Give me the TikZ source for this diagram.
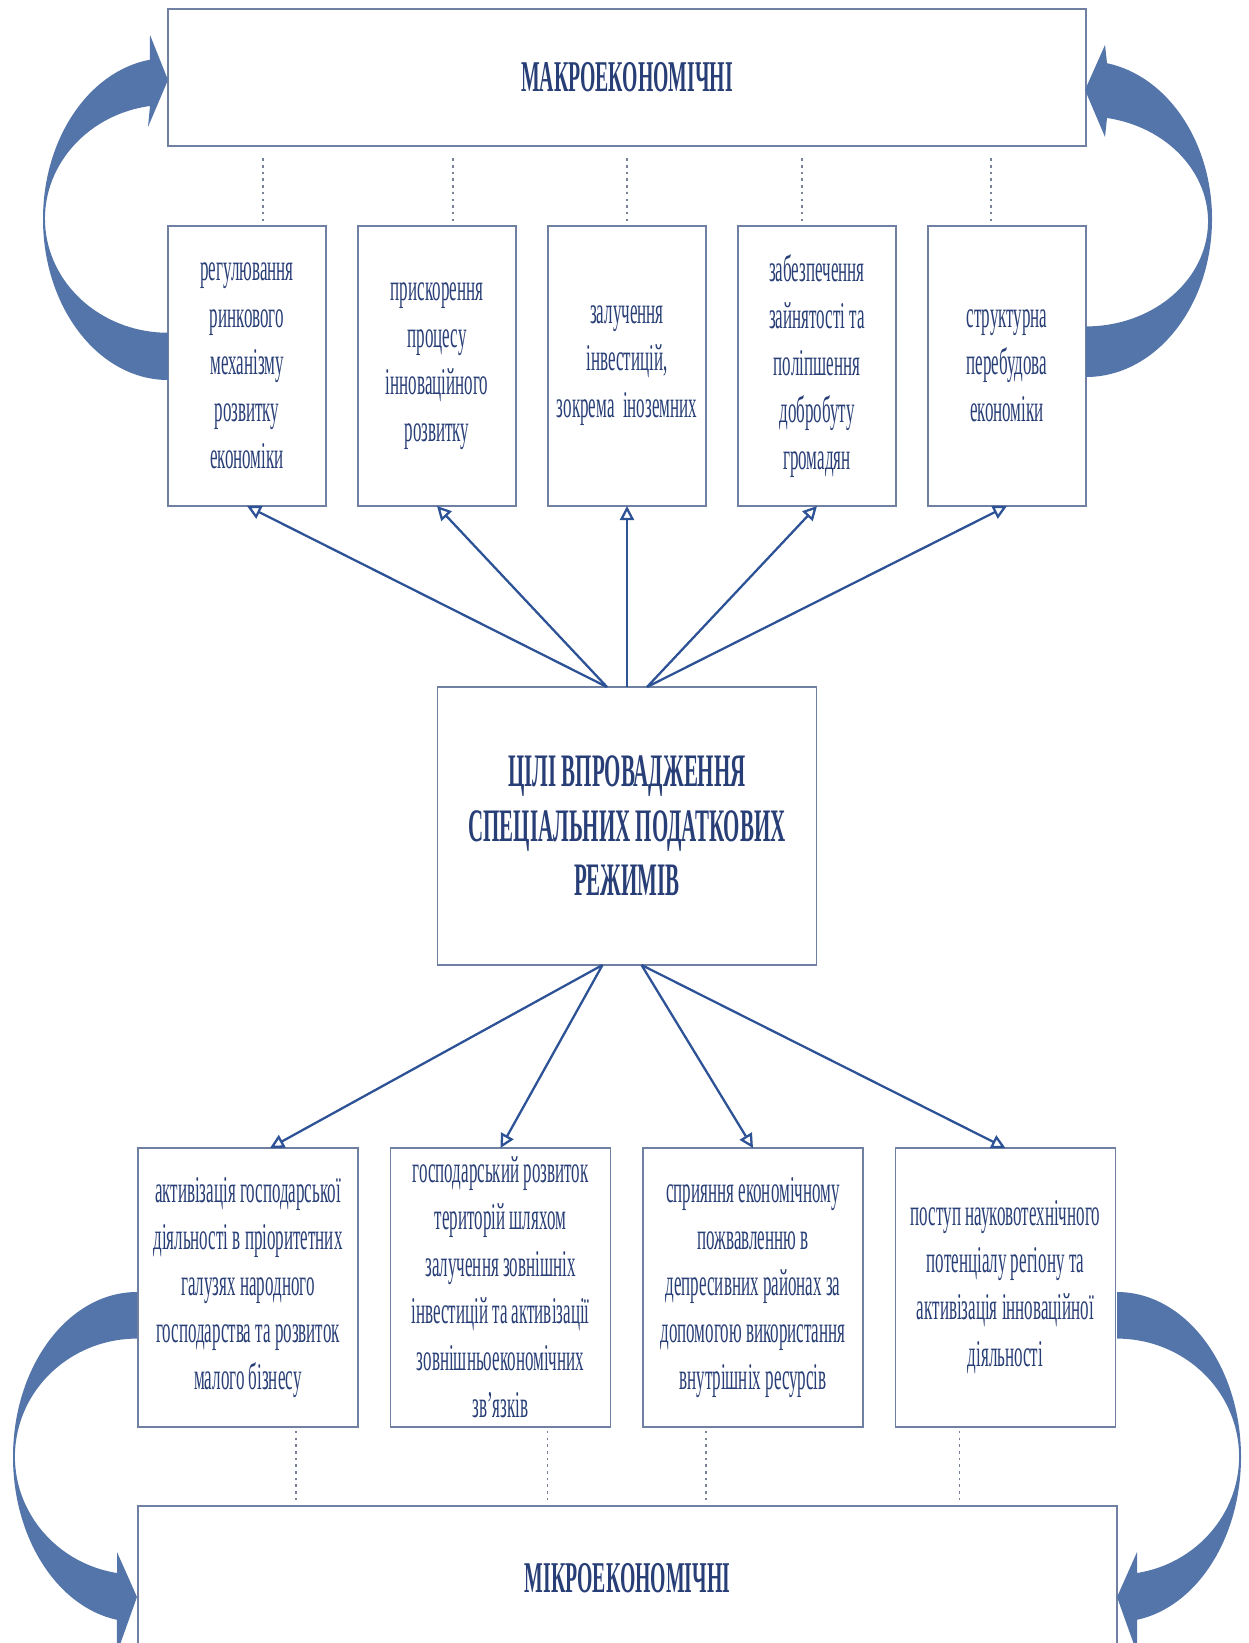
\documentclass[tikz,border=0pt]{standalone}
\usepackage{fontspec}
\setmainfont{Liberation Serif}[FakeStretch=0.45]
\usetikzlibrary{positioning, arrows.meta, calc}
\definecolor{frameGray}{RGB}{112, 128, 162}
\definecolor{textNavy}{RGB}{40, 62, 118}
\definecolor{arrowBlue}{RGB}{45, 82, 150}
\definecolor{bendBlue}{RGB}{84, 117, 170}
\definecolor{dotGray}{RGB}{120, 130, 152}

\begin{document}
\begin{tikzpicture}[
    node distance=1.6cm and 0.64cm,
    levelbox/.style={
        draw=frameGray,
        fill=white,
        rectangle,
        line width=0.9pt,
        inner sep=0pt,
        outer sep=0pt,
        minimum height=2.74cm,
        text=textNavy,
        font=\fontsize{25}{30}\selectfont\bfseries
    },
    aimbox/.style={
        draw=frameGray,
        fill=white,
        rectangle,
        line width=0.9pt,
        align=center,
        inner sep=0pt,
        outer sep=0pt,
        minimum width=3.16cm,
        minimum height=5.6cm,
        text=textNavy,
        font=\fontsize{21.5}{26.7}\selectfont
    },
    waybox/.style={
        aimbox,
        minimum width=4.4cm,
        minimum height=5.58cm
    },
    goalbox/.style={
        aimbox,
        minimum width=7.58cm,
        minimum height=5.56cm,
        font=\fontsize{26.5}{31}\selectfont\bfseries
    },
    arrow/.style={
        draw=arrowBlue,
        line width=1.3pt,
        -{Triangle[open, length=8pt, width=8pt]}
    },
    link/.style={
        draw=dotGray,
        line width=1pt,
        dash pattern=on 1.4pt off 2.4pt
    },
    bendarrow/.style={
        fill=bendBlue
    }
]
\useasboundingbox (0,0) rectangle (24.96,-32.86);

% 1. Macro level with its goals
\node[levelbox, minimum width=18.36cm] (macro) at (12.54,-1.55) {МАКРОЕКОНОМІЧНІ};

\node[aimbox, below=1.6cm of macro.south west, anchor=north west] (m1) {регулювання\\ринкового\\механізму\\розвитку\\економіки};
\node[aimbox, right=of m1] (m2) {прискорення\\процесу\\інноваційного\\розвитку};
\node[aimbox, right=of m2] (m3) {залучення\\інвестицій,\\зокрема~ іноземних};
\node[aimbox, right=of m3] (m4) {забезпечення\\зайнятості та\\поліпшення\\добробуту\\громадян};
\node[aimbox, right=of m4] (m5) {структурна\\перебудова\\економіки};

\foreach \name/\dx in {m1/0.32, m2/0.32, m3/0, m4/-0.3, m5/-0.32}
    \draw[link, shorten <=0.1cm, shorten >=0.2cm] ([xshift=\dx cm]\name.north) -- ([xshift=\dx cm]\name.north |- macro.south);

% 2. Goals of the special tax regimes
\node[goalbox, below=3.62cm of m3] (goal) {ЦІЛІ ВПРОВАДЖЕННЯ\\СПЕЦІАЛЬНИХ ПОДАТКОВИХ\\РЕЖИМІВ};

\draw[arrow] ([xshift=-0.4cm]goal.north) -- (m1.south);
\draw[arrow] ([xshift=-0.4cm]goal.north) -- (m2.south);
\draw[arrow] (goal.north) -- (m3.south);
\draw[arrow] ([xshift=0.4cm]goal.north) -- (m4.south);
\draw[arrow] ([xshift=0.4cm]goal.north) -- (m5.south);

% 3. Micro level with its goals
\node[waybox, anchor=north west] (n1) at (2.76,-22.96) {активізація господарської\\діяльності в пріоритетних\\галузях народного\\господарства та розвиток\\малого бізнесу};
\node[waybox, right=0.65cm of n1] (n2) {господарський розвиток\\територій шляхом\\залучення зовнішніх\\інвестицій та активізації\\зовнішньоекономічних\\зв’язків};
\node[waybox, right=0.65cm of n2] (n3) {сприяння економічному\\пожвавленню в\\депресивних районах за\\допомогою використання\\внутрішніх ресурсів};
\node[waybox, right=0.65cm of n3] (n4) {поступ науковотехнічного\\потенціалу регіону та\\активізація інноваційної\\діяльності};

\node[levelbox, minimum width=19.58cm, minimum height=2.88cm, below=1.58cm of n1.south west, anchor=north west] (micro) {МІКРОЕКОНОМІЧНІ};

\draw[arrow] ([xshift=-0.49cm]goal.south) -- ([xshift=0.44cm]n1.north);
\draw[arrow] ([xshift=-0.49cm]goal.south) -- (n2.north);
\draw[arrow] ([xshift=0.29cm]goal.south) -- (n3.north);
\draw[arrow] ([xshift=0.29cm]goal.south) -- (n4.north);

\foreach \name/\dx in {n1/0.96, n2/0.94, n3/-0.94, n4/-0.92}
    \draw[link, shorten <=0.08cm, shorten >=0.08cm] ([xshift=\dx cm]\name.south) -- ([xshift=\dx cm]\name.south |- micro.north);

% 4. Curved arrows
\fill[bendarrow] (3.36,-7.6) arc[start angle=270, end angle=98.3, x radius=2.5, y radius=3.22]
    -- (3.0,-0.7) -- (3.36,-1.6) -- (2.96,-2.54) -- (3.0,-2.12)
    arc[start angle=98.4, end angle=270, x radius=2.46, y radius=2.28] -- cycle;
\fill[bendarrow] (21.72,-7.54) arc[start angle=-90, end angle=80.4, x radius=2.52, y radius=3.16]
    -- (22.1,-0.9) -- (21.7,-1.8) -- (22.1,-2.74) -- (22.14,-2.36)
    arc[start angle=80.1, end angle=-90, x radius=2.44, y radius=2.1] -- cycle;
\fill[bendarrow] (2.74,-25.84) arc[start angle=90, end angle=260.7, x radius=2.48, y radius=3.3]
    -- (2.34,-33.06) -- (2.74,-31.94) -- (2.34,-31.04) -- (2.34,-31.46)
    arc[start angle=260.6, end angle=90, x radius=2.44, y radius=2.36] -- cycle;
\fill[bendarrow] (22.34,-25.84) arc[start angle=90, end angle=-80.7, x radius=2.48, y radius=3.3]
    -- (22.74,-33.06) -- (22.34,-31.94) -- (22.74,-31.04) -- (22.74,-31.46)
    arc[start angle=-80.6, end angle=90, x radius=2.44, y radius=2.36] -- cycle;

\end{tikzpicture}
\end{document}
